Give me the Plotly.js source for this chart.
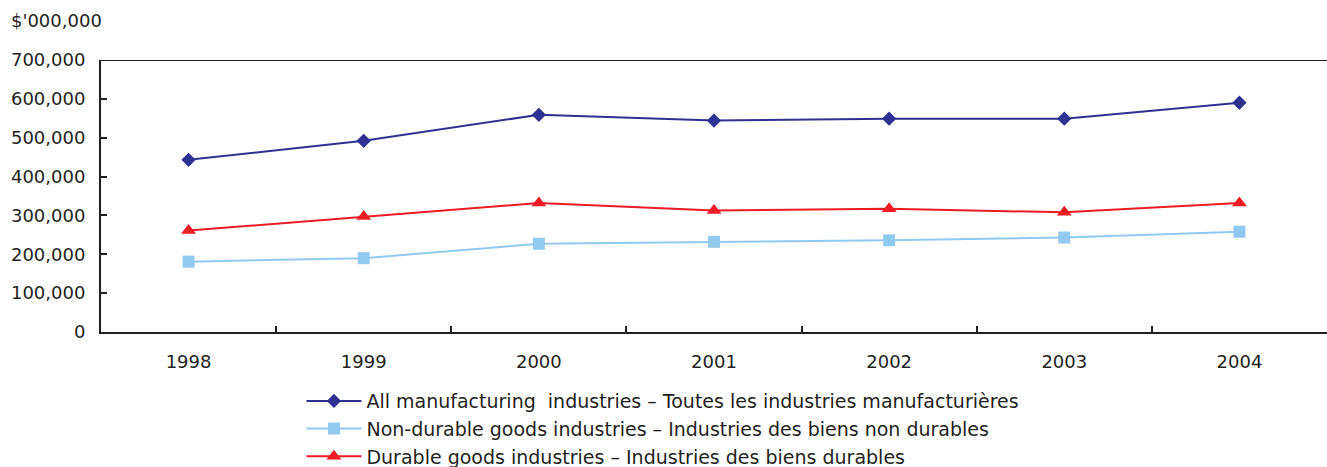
<!DOCTYPE html>
<html>
<head>
<meta charset="utf-8">
<script src="https://cdn.plot.ly/plotly-3.0.1.min.js"></script>
<style>html,body{margin:0;padding:0;background:#fff;}#chart{width:1327px;height:467px;}</style>
</head>
<body>
<div id="chart"></div>
<script>
const years = ['1998','1999','2000','2001','2002','2003','2004'];
const allManufacturing = [443000, 492000, 559000, 544000, 549000, 549000, 590000];
const nonDurable = [181000, 190000, 227000, 232000, 236000, 243000, 258000];
const durable = [261000, 297000, 332000, 313000, 317000, 308000, 332000];
const seriesNames = [
  'All manufacturing  industries – Toutes les industries manufacturières',
  'Non-durable goods industries – Industries des biens non durables',
  'Durable goods industries – Industries des biens durables'
];
const yTicks = [0, 100000, 200000, 300000, 400000, 500000, 600000, 700000];
const yTickText = ['0','100,000','200,000','300,000','400,000','500,000','600,000','700,000'];
const unitLabel = "$'000,000";

const FONT = 'DejaVu Sans, Arial, sans-serif';
const TXT = '#231f20';

const traces = [
  {x: years, y: allManufacturing, name: seriesNames[0], type: 'scatter', mode: 'lines+markers',
   line: {color: '#2e3192', width: 2}, marker: {symbol: 'diamond', size: 11, color: '#2e3192'}},
  {x: years, y: nonDurable, name: seriesNames[1], type: 'scatter', mode: 'lines+markers',
   line: {color: '#92c9ee', width: 2}, marker: {symbol: 'square', size: 12, color: '#92c9ee'}},
  {x: years, y: durable, name: seriesNames[2], type: 'scatter', mode: 'lines+markers',
   line: {color: '#ed1c24', width: 2}, marker: {symbol: 'triangle-up', size: 13, color: '#ed1c24'}}
];

const layout = {
  width: 1327, height: 467,
  margin: {l: 101, r: 0, t: 60, b: 135, autoexpand: false},
  paper_bgcolor: '#fff', plot_bgcolor: '#fff',
  font: {family: FONT, color: TXT, size: 18},
  showlegend: true,
  legend: {
    x: 0.1635, xanchor: 'left', y: -0.184, yanchor: 'top',
    font: {family: FONT, size: 19, color: TXT},
    itemwidth: 55, tracegroupgap: 0, bgcolor: 'rgba(0,0,0,0)'
  },
  xaxis: {
    type: 'category', range: [-0.5, 6.5],
    showline: true, linecolor: TXT, linewidth: 2, mirror: false,
    ticks: 'inside', tickson: 'boundaries', ticklen: 6, tickwidth: 2, tickcolor: TXT,
    showgrid: false, zeroline: false,
    tickfont: {family: FONT, size: 18, color: TXT},
    ticklabelstandoff: 12
  },
  yaxis: {
    range: [0, 700000], tickvals: yTicks, ticktext: yTickText,
    showline: true, linecolor: TXT, linewidth: 2,
    ticks: 'inside', ticklen: 6, tickwidth: 2, tickcolor: TXT,
    showgrid: false, zeroline: false,
    tickfont: {family: FONT, size: 18, color: TXT},
    ticklabelstandoff: 10
  },
  shapes: [
    {type: 'line', xref: 'paper', yref: 'y', x0: 0, x1: 1, y0: 700000, y1: 700000,
     line: {color: TXT, width: 2}}
  ],
  annotations: [
    {text: unitLabel, xref: 'paper', yref: 'paper', x: -0.075, y: 1.147, xanchor: 'left', yanchor: 'middle',
     showarrow: false, font: {family: FONT, size: 18, color: TXT}}
  ]
};

Plotly.newPlot('chart', traces, layout, {displayModeBar: false, staticPlot: true});
</script>
</body>
</html>
